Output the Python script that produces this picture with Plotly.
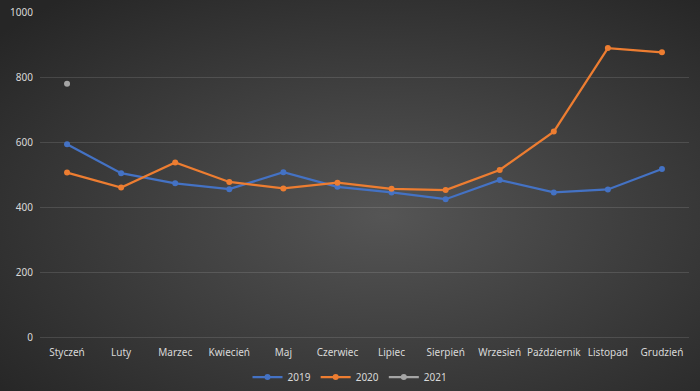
import plotly.graph_objects as go
import urllib.parse

months = ["Styczeń", "Luty", "Marzec", "Kwiecień", "Maj", "Czerwiec", "Lipiec",
          "Sierpień", "Wrzesień", "Październik", "Listopad", "Grudzień"]
s2019 = [593, 504, 473, 455, 507, 462, 445, 424, 483, 445, 454, 517]
s2020 = [506, 460, 537, 477, 457, 475, 456, 452, 514, 632, 889, 876]
s2021 = [779]

series = [("2019", s2019, "#4472C4"), ("2020", s2020, "#ED7D31"), ("2021", s2021, "#A5A5A5")]

W, H = 700, 391
L, R, T, B = 40, 11, 12, 54
PW, PH = W - L - R, H - T - B

fig = go.Figure()
for name, vals, col in series:
    fig.add_trace(go.Scatter(
        x=months[:len(vals)], y=vals, name=name, mode="lines+markers",
        line=dict(color=col, width=2.25),
        marker=dict(color=col, size=6),
    ))

svg = ('<svg xmlns="http://www.w3.org/2000/svg" width="700" height="391" preserveAspectRatio="none">'
       '<defs><radialGradient id="g" cx="55%" cy="55%" r="72%">'
       '<stop offset="0" stop-color="#555555"/><stop offset="1" stop-color="#262626"/>'
       '</radialGradient></defs><rect width="700" height="391" fill="url(#g)"/></svg>')
src = "data:image/svg+xml;charset=utf-8," + urllib.parse.quote(svg)

font = dict(family="Noto Sans, Liberation Sans, sans-serif", size=10, color="#D9D9D9")

fig.update_layout(
    width=W, height=H,
    margin=dict(l=L, r=R, t=T, b=B, autoexpand=False),
    paper_bgcolor="#303030", plot_bgcolor="rgba(0,0,0,0)",
    font=font,
    images=[dict(source=src, xref="paper", yref="paper",
                 x=-L / PW, y=1 + T / PH, sizex=W / PW, sizey=H / PH,
                 xanchor="left", yanchor="top", layer="below", sizing="stretch")],
    showlegend=True,
    legend=dict(orientation="h", x=0.5, xanchor="center", xref="container",
                y=1 - 377 / H, yanchor="middle", yref="container",
                font=dict(size=10, color="#D9D9D9"), itemwidth=30, tracegroupgap=0,
                bgcolor="rgba(0,0,0,0)"),
    xaxis=dict(range=[-0.5, 11.5], showgrid=False, showline=False, ticks="",
               automargin=False, ticklabelstandoff=8,
               tickfont=dict(size=10, color="#D9D9D9")),
    yaxis=dict(range=[0, 1000], dtick=200, showgrid=True, gridcolor="rgba(255,255,255,0.12)",
               gridwidth=1, zeroline=True, zerolinecolor="rgba(255,255,255,0.12)", zerolinewidth=1,
               showline=False, ticks="", automargin=False, ticklabelstandoff=6,
               tickfont=dict(size=10, color="#D9D9D9")),
)

fig.write_html("out.html", config={"displayModeBar": False},
               post_script="document.body.style.margin='0';document.body.style.overflow='hidden';")
